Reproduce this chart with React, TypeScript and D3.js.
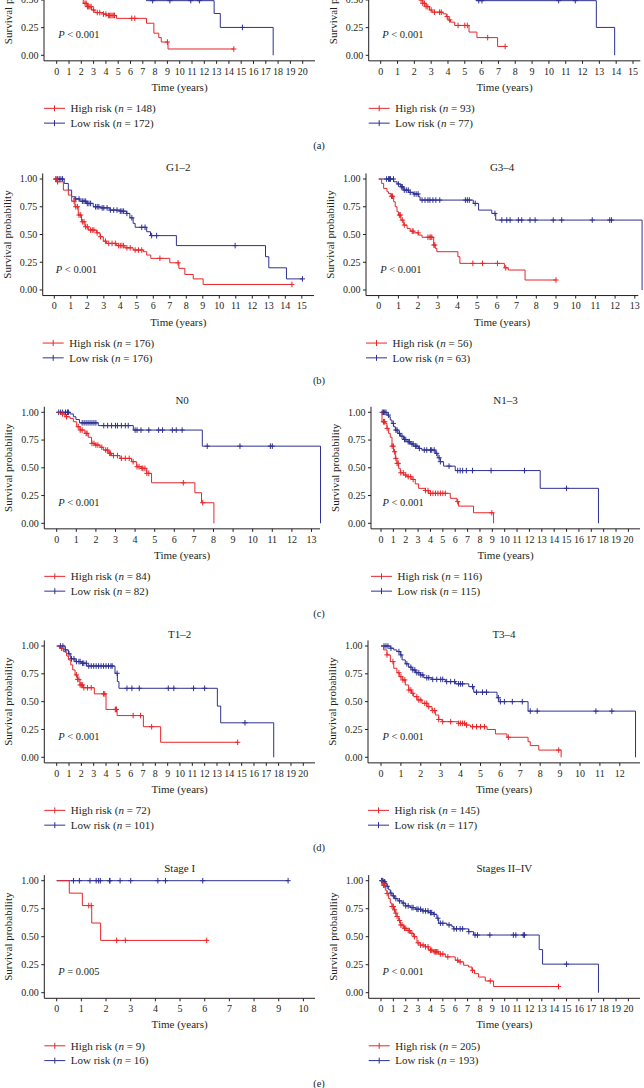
import React from "react";
import * as d3 from "d3";

type Step = [number, number];

const RED = "#e8262a";
const BLUE = "#2e3192";
const INK = "#231f20";
const FONT = "'Liberation Serif', 'Times New Roman', Times, serif";

// ---------- panel meta ----------
const panelTitles = ["", "", "G1–2", "G3–4", "N0", "N1–3", "T1–2", "T3–4", "Stage I", "Stages II–IV"];
const highN = [148, 93, 176, 56, 84, 116, 72, 145, 9, 205];
const lowN = [172, 77, 176, 63, 82, 115, 101, 117, 16, 193];
const pOps = ["<", "<", "<", "<", "<", "<", "<", "<", "=", "<"];
const pVals = ["0.001", "0.001", "0.001", "0.001", "0.001", "0.001", "0.001", "0.001", "0.005", "0.001"];
const tickMax = [20, 15, 15, 13, 13, 20, 20, 12, 10, 20];
const rowLabels = ["(a)", "(b)", "(c)", "(d)", "(e)"];
const yTicks = [0, 0.25, 0.5, 0.75, 1];

// ---------- survival data (time, survival) ----------
const a1HighSteps: Step[] = [[0, 1], [0.3, 0.96], [0.6, 0.9], [0.9, 0.84], [1.2, 0.76], [1.5, 0.68], [1.8, 0.58], [2.0, 0.52], [2.16, 0.47], [2.49, 0.44], [2.84, 0.41], [3.1, 0.386], [3.78, 0.373], [4.05, 0.36], [4.86, 0.334], [7.3, 0.29], [7.9, 0.2], [8.3, 0.16], [8.5, 0.12], [9.05, 0.057]];
const a1HighEnd = 14.4;
const a1HighCensor = [2.3, 2.4, 2.5, 2.6, 2.7, 2.8, 3.0, 3.3, 3.5, 3.8, 4.0, 4.2, 4.3, 4.4, 4.5, 4.6, 4.7, 6.1, 6.35, 9.0, 14.4];
const a1LowSteps: Step[] = [[0, 1], [0.5, 0.97], [1, 0.93], [1.5, 0.88], [2, 0.83], [3, 0.78], [4, 0.73], [5, 0.66], [6, 0.6], [7, 0.55], [7.3, 0.494], [12.8, 0.378], [13.3, 0.252], [17.6, 0]];
const a1LowEnd = 17.6;
const a1LowCensor = [0.2, 0.5, 1.2, 2.5, 3.5, 4.5, 5.5, 7.8, 9.2, 10.9, 11.6, 15.1];

const a2HighSteps: Step[] = [[0, 1], [0.3, 0.95], [0.7, 0.88], [1.0, 0.8], [1.4, 0.72], [1.8, 0.62], [2.1, 0.55], [2.3, 0.5], [2.5, 0.47], [2.7, 0.44], [2.9, 0.41], [3.05, 0.39], [3.7, 0.375], [3.9, 0.35], [4.0, 0.32], [4.15, 0.3], [4.4, 0.27], [5.25, 0.21], [5.72, 0.16], [6.95, 0.08]];
const a2HighEnd = 7.4;
const a2HighCensor = [2.4, 2.5, 2.6, 2.7, 2.8, 3.0, 3.2, 3.5, 3.6, 3.95, 4.1, 4.6, 5.0, 5.15, 6.36, 7.4];
const a2LowSteps: Step[] = [[0, 1], [0.5, 0.97], [1, 0.94], [2, 0.88], [3, 0.8], [4, 0.7], [5, 0.6], [5.67, 0.494], [12.82, 0.252], [13.91, 0]];
const a2LowEnd = 13.91;
const a2LowCensor = [0.3, 1.5, 2.5, 4.5, 5.83, 6.02, 10.58, 11.57];

const b1HighSteps: Step[] = [[0, 1], [0.14, 0.975], [0.55, 0.9], [0.85, 0.855], [1.05, 0.8], [1.25, 0.75], [1.45, 0.675], [1.65, 0.615], [1.86, 0.57], [2.06, 0.54], [2.56, 0.515], [2.77, 0.48], [2.97, 0.44], [3.17, 0.42], [3.78, 0.4], [4.28, 0.38], [4.78, 0.36], [5.4, 0.345], [5.6, 0.315], [5.85, 0.285], [7.0, 0.245], [7.55, 0.195], [7.91, 0.14], [8.42, 0.1], [9.02, 0.05]];
const b1HighEnd = 14.4;
const b1HighCensor = [0.1, 0.2, 1.2, 1.3, 1.4, 1.5, 1.6, 1.7, 1.8, 1.9, 2.0, 2.2, 2.3, 2.4, 2.6, 2.8, 3.1, 3.3, 3.5, 3.7, 3.9, 4.0, 4.1, 4.2, 4.4, 4.6, 4.9, 5.1, 5.3, 6.4, 7.5, 14.4];
const b1LowSteps: Step[] = [[0, 1], [0.6, 0.96], [0.85, 0.9], [1.05, 0.84], [1.25, 0.82], [1.55, 0.8], [1.96, 0.78], [2.36, 0.75], [2.77, 0.74], [3.37, 0.72], [3.98, 0.71], [4.38, 0.69], [4.58, 0.65], [4.78, 0.6], [4.9, 0.565], [5.6, 0.525], [5.83, 0.49], [7.4, 0.4], [12.8, 0.3], [13.0, 0.2], [14.07, 0.1]];
const b1LowEnd = 15.04;
const b1LowCensor = [0.1, 0.2, 0.3, 0.4, 0.5, 1.3, 1.5, 1.7, 1.8, 1.9, 2.0, 2.1, 2.2, 2.5, 2.6, 2.7, 2.9, 3.0, 3.2, 3.4, 3.6, 3.8, 4.0, 4.1, 4.2, 4.4, 4.7, 5.3, 5.5, 5.9, 6.2, 10.96, 15.04];

const b2HighSteps: Step[] = [[0, 1], [0.15, 0.96], [0.25, 0.915], [0.42, 0.885], [0.5, 0.87], [0.62, 0.845], [0.76, 0.795], [0.84, 0.75], [0.93, 0.705], [1.01, 0.675], [1.13, 0.63], [1.27, 0.585], [1.44, 0.555], [1.6, 0.53], [1.77, 0.515], [2.03, 0.495], [2.2, 0.475], [2.79, 0.405], [2.87, 0.375], [2.95, 0.345], [4.02, 0.3], [4.12, 0.24], [6.38, 0.2], [6.58, 0.18], [7.43, 0.09]];
const b2HighEnd = 9.0;
const b2HighCensor = [0.65, 0.7, 1.05, 1.1, 1.2, 1.3, 1.7, 1.75, 2.0, 2.5, 2.6, 2.65, 2.7, 2.8, 2.85, 4.78, 5.27, 6.03, 6.45, 9.0];
const b2LowSteps: Step[] = [[0, 1], [0.76, 0.975], [0.93, 0.955], [1.1, 0.93], [1.27, 0.9], [1.52, 0.88], [1.77, 0.865], [2.03, 0.84], [2.1, 0.81], [4.8, 0.78], [5.07, 0.72], [5.74, 0.69], [5.94, 0.63], [13.37, 0]];
const b2LowEnd = 13.37;
const b2LowCensor = [0.4, 0.5, 0.55, 0.6, 0.75, 1.0, 1.15, 1.2, 1.3, 1.4, 1.5, 1.6, 1.8, 1.9, 2.0, 2.2, 2.35, 2.5, 2.6, 2.75, 2.9, 3.1, 4.4, 4.5, 4.6, 4.9, 5.9, 6.25, 6.5, 6.67, 7.09, 7.26, 7.68, 7.94, 8.86, 9.29, 10.84, 11.73, 11.82];

const c1HighSteps: Step[] = [[0, 1], [0.17, 0.985], [0.42, 0.96], [0.68, 0.945], [0.85, 0.915], [1.02, 0.87], [1.19, 0.84], [1.44, 0.81], [1.61, 0.775], [1.78, 0.72], [1.95, 0.705], [2.21, 0.685], [2.38, 0.66], [2.63, 0.63], [2.8, 0.61], [3.23, 0.585], [3.82, 0.555], [4.08, 0.51], [4.33, 0.495], [4.59, 0.45], [4.84, 0.365], [7.05, 0.275], [7.39, 0.185], [8.02, 0]];
const c1HighEnd = 8.02;
const c1HighCensor = [0.3, 0.5, 1.1, 1.2, 1.3, 1.5, 1.55, 1.8, 1.9, 2.0, 2.1, 2.3, 2.5, 2.6, 2.7, 2.75, 2.9, 3.1, 3.3, 3.5, 3.7, 3.9, 4.1, 4.2, 4.35, 4.4, 4.5, 4.6, 4.7, 6.46, 7.45];
const c1LowSteps: Step[] = [[0, 1], [0.68, 0.985], [0.85, 0.96], [0.98, 0.935], [1.16, 0.905], [2.12, 0.88], [3.91, 0.84], [7.43, 0.695], [13.46, 0]];
const c1LowEnd = 13.46;
const c1LowCensor = [0.1, 0.2, 0.3, 0.45, 0.55, 0.6, 1.3, 1.4, 1.5, 1.6, 1.7, 1.8, 1.9, 2.0, 2.4, 2.6, 2.8, 3.0, 3.1, 3.3, 3.5, 3.65, 4.0, 4.1, 4.3, 4.7, 5.2, 5.4, 5.9, 6.1, 6.4, 7.68, 9.35, 10.9, 11.0];

const c2HighSteps: Step[] = [[0, 1], [0.08, 0.915], [0.35, 0.9], [0.48, 0.855], [0.62, 0.81], [0.75, 0.775], [0.89, 0.695], [1.02, 0.645], [1.16, 0.585], [1.29, 0.54], [1.43, 0.495], [1.56, 0.455], [1.83, 0.435], [2.1, 0.42], [2.5, 0.395], [2.77, 0.355], [3.04, 0.315], [3.58, 0.295], [3.85, 0.27], [5.6, 0.225], [6.14, 0.195], [6.27, 0.155], [7.48, 0.095], [9.1, 0]];
const c2HighEnd = 9.1;
const c2HighCensor = [0.2, 0.25, 0.3, 0.5, 0.9, 1.0, 1.1, 1.2, 1.3, 1.4, 1.6, 1.8, 2.0, 2.2, 2.4, 2.6, 3.6, 3.8, 4.0, 4.2, 4.4, 4.6, 4.8, 5.0, 5.2, 6.2, 8.96];
const c2LowSteps: Step[] = [[0, 1], [0.48, 0.975], [0.62, 0.96], [0.75, 0.93], [0.89, 0.9], [1.02, 0.87], [1.16, 0.84], [1.37, 0.81], [1.56, 0.785], [1.83, 0.755], [2.1, 0.735], [2.37, 0.715], [2.64, 0.695], [3.04, 0.675], [3.31, 0.66], [4.39, 0.63], [4.6, 0.59], [4.79, 0.555], [5.06, 0.515], [6.0, 0.475], [12.87, 0.315], [17.58, 0]];
const c2LowEnd = 17.58;
const c2LowCensor = [0.1, 0.2, 0.3, 0.4, 0.6, 1.0, 1.2, 1.3, 1.5, 1.7, 1.9, 2.0, 2.2, 2.3, 2.5, 2.6, 2.8, 2.9, 3.1, 3.5, 3.7, 4.0, 4.1, 4.3, 4.5, 4.7, 4.8, 5.5, 6.2, 6.4, 6.6, 6.9, 7.4, 8.9, 11.6, 15.0];

const d1HighSteps: Step[] = [[0, 1], [0.22, 0.98], [0.54, 0.95], [0.81, 0.91], [0.95, 0.875], [1.14, 0.83], [1.3, 0.785], [1.49, 0.74], [1.68, 0.7], [1.89, 0.65], [2.16, 0.625], [3.05, 0.57], [4.0, 0.43], [4.9, 0.375], [7.03, 0.275], [8.43, 0.135]];
const d1HighEnd = 14.68;
const d1HighCensor = [0.4, 1.6, 1.7, 1.8, 1.9, 2.0, 2.1, 2.2, 2.5, 2.8, 3.8, 3.9, 4.75, 4.8, 4.85, 6.2, 6.8, 7.7, 14.68];
const d1LowSteps: Step[] = [[0, 1], [0.68, 0.965], [0.95, 0.93], [1.14, 0.885], [1.49, 0.86], [2.03, 0.845], [2.43, 0.82], [4.73, 0.755], [4.92, 0.68], [5.05, 0.62], [13.03, 0.46], [13.3, 0.31], [17.6, 0]];
const d1LowEnd = 17.6;
const d1LowCensor = [0.3, 0.5, 0.7, 1.0, 1.2, 1.4, 1.6, 1.8, 1.9, 2.1, 2.2, 2.4, 2.6, 2.8, 3.0, 3.2, 3.4, 3.6, 3.8, 4.0, 4.2, 4.4, 4.5, 4.9, 5.7, 6.1, 6.7, 9.05, 9.5, 11.1, 12.0, 15.27];

const d2HighSteps: Step[] = [[0, 1], [0.13, 0.965], [0.3, 0.92], [0.47, 0.86], [0.64, 0.8], [0.8, 0.76], [0.92, 0.725], [1.06, 0.695], [1.22, 0.65], [1.39, 0.605], [1.53, 0.575], [1.64, 0.545], [1.81, 0.515], [2.06, 0.485], [2.31, 0.455], [2.56, 0.42], [2.73, 0.38], [2.9, 0.34], [3.07, 0.32], [3.9, 0.305], [4.24, 0.29], [4.49, 0.275], [5.33, 0.25], [5.75, 0.21], [6.33, 0.18], [7.39, 0.14], [7.5, 0.105], [7.93, 0.065], [9.05, 0]];
const d2HighEnd = 9.05;
const d2HighCensor = [0.3, 0.6, 0.9, 1.0, 1.1, 1.2, 1.4, 1.5, 1.6, 1.8, 1.9, 2.0, 2.2, 2.3, 2.4, 2.6, 2.7, 2.9, 3.1, 3.5, 3.9, 4.0, 4.1, 4.2, 4.3, 4.6, 4.8, 5.0, 5.2, 6.4, 8.93];
const d2LowSteps: Step[] = [[0, 1], [0.47, 0.98], [0.64, 0.965], [0.8, 0.95], [0.97, 0.92], [1.06, 0.875], [1.22, 0.84], [1.39, 0.81], [1.56, 0.785], [1.73, 0.76], [1.98, 0.74], [2.15, 0.715], [2.56, 0.7], [3.23, 0.68], [3.74, 0.66], [4.41, 0.635], [4.66, 0.585], [5.83, 0.535], [5.92, 0.5], [7.39, 0.415], [12.79, 0]];
const d2LowEnd = 12.79;
const d2LowCensor = [0.15, 0.25, 0.35, 0.5, 0.9, 1.0, 1.3, 1.5, 1.6, 1.7, 1.8, 1.9, 2.0, 2.1, 2.3, 2.4, 2.6, 2.8, 3.0, 3.1, 3.3, 3.5, 3.7, 3.9, 4.0, 4.1, 4.6, 4.8, 5.1, 5.3, 5.9, 6.0, 6.2, 6.6, 7.1, 7.5, 7.85, 10.8, 11.6];

const e1HighSteps: Step[] = [[0, 1], [0.51, 0.889], [1.04, 0.778], [1.42, 0.622], [1.78, 0.467]];
const e1HighEnd = 6.08;
const e1HighCensor = [1.3, 1.4, 2.43, 2.78, 6.08];
const e1LowSteps: Step[] = [[0, 1]];
const e1LowEnd = 9.38;
const e1LowCensor = [0.68, 0.92, 1.35, 1.6, 1.7, 1.77, 2.14, 2.16, 2.57, 3.0, 4.1, 4.41, 5.92, 9.38];

const e2HighSteps: Step[] = [[0, 1], [0.08, 0.96], [0.35, 0.915], [0.48, 0.885], [0.62, 0.84], [0.75, 0.8], [0.89, 0.77], [1.02, 0.74], [1.16, 0.71], [1.29, 0.68], [1.43, 0.645], [1.56, 0.605], [1.83, 0.575], [2.1, 0.555], [2.37, 0.53], [2.64, 0.5], [2.91, 0.445], [3.18, 0.425], [3.58, 0.41], [3.85, 0.38], [4.25, 0.365], [4.66, 0.345], [5.2, 0.32], [6.0, 0.29], [6.27, 0.275], [6.68, 0.245], [7.08, 0.23], [7.35, 0.2], [7.56, 0.17], [7.89, 0.14], [8.43, 0.105], [9.1, 0.055]];
const e2HighEnd = 14.35;
const e2HighCensor = [0.2, 0.3, 0.5, 0.9, 1.0, 1.1, 1.2, 1.3, 1.5, 1.6, 1.7, 1.9, 2.0, 2.2, 2.3, 2.5, 2.7, 3.0, 3.2, 3.4, 3.6, 3.8, 4.0, 4.1, 4.3, 4.4, 4.5, 4.6, 4.8, 5.0, 5.4, 6.2, 6.4, 7.4, 8.83, 14.35];
const e2LowSteps: Step[] = [[0, 1], [0.2, 0.99], [0.35, 0.975], [0.48, 0.95], [0.62, 0.92], [0.75, 0.89], [0.89, 0.865], [1.1, 0.84], [1.37, 0.82], [1.7, 0.8], [1.96, 0.775], [2.37, 0.76], [2.77, 0.745], [3.31, 0.73], [3.85, 0.715], [4.25, 0.7], [4.52, 0.665], [4.66, 0.62], [5.33, 0.605], [5.73, 0.59], [5.87, 0.57], [7.08, 0.545], [7.48, 0.515], [12.79, 0.385], [13.06, 0.255], [17.58, 0]];
const e2LowEnd = 17.58;
const e2LowCensor = [0.05, 0.1, 0.15, 0.25, 0.3, 0.5, 0.8, 1.0, 1.2, 1.5, 1.8, 2.0, 2.2, 2.5, 2.6, 2.9, 3.0, 3.2, 3.4, 3.6, 3.8, 4.0, 4.1, 4.3, 4.6, 4.8, 5.0, 5.5, 5.9, 6.1, 6.4, 6.6, 7.1, 7.6, 7.8, 8.8, 10.7, 10.9, 11.5, 11.6, 15.0];

const highSteps = [a1HighSteps, a2HighSteps, b1HighSteps, b2HighSteps, c1HighSteps, c2HighSteps, d1HighSteps, d2HighSteps, e1HighSteps, e2HighSteps];
const highEnds = [a1HighEnd, a2HighEnd, b1HighEnd, b2HighEnd, c1HighEnd, c2HighEnd, d1HighEnd, d2HighEnd, e1HighEnd, e2HighEnd];
const highCensors = [a1HighCensor, a2HighCensor, b1HighCensor, b2HighCensor, c1HighCensor, c2HighCensor, d1HighCensor, d2HighCensor, e1HighCensor, e2HighCensor];
const lowSteps = [a1LowSteps, a2LowSteps, b1LowSteps, b2LowSteps, c1LowSteps, c2LowSteps, d1LowSteps, d2LowSteps, e1LowSteps, e2LowSteps];
const lowEnds = [a1LowEnd, a2LowEnd, b1LowEnd, b2LowEnd, c1LowEnd, c2LowEnd, d1LowEnd, d2LowEnd, e1LowEnd, e2LowEnd];
const lowCensors = [a1LowCensor, a2LowCensor, b1LowCensor, b2LowCensor, c1LowCensor, c2LowCensor, d1LowCensor, d2LowCensor, e1LowCensor, e2LowCensor];

// ---------- layout (pixels) ----------
const panelX = [
  { left: 44, zero: 56.7, unit: 12.3, right: 315 },
  { left: 368.7, zero: 380.7, unit: 16.82, right: 640.3 },
  { left: 42.7, zero: 54.3, unit: 16.5, right: 314 },
  { left: 366, zero: 378.7, unit: 19.7, right: 638.3 },
  { left: 44.3, zero: 56.7, unit: 19.6, right: 320 },
  { left: 371, zero: 381, unit: 12.37, right: 640 },
  { left: 44.3, zero: 56.7, unit: 12.33, right: 315 },
  { left: 368, zero: 381, unit: 19.9, right: 640 },
  { left: 44.3, zero: 56.7, unit: 24.67, right: 315 },
  { left: 368.7, zero: 381, unit: 12.37, right: 640 },
];
const rowY = [
  { top: -55.3, bottom: 55.3 },
  { top: 179, bottom: 290 },
  { top: 412.3, bottom: 523.3 },
  { top: 646, bottom: 757.3 },
  { top: 880.7, bottom: 992.7 },
];

function survAt(steps: Step[], t: number) {
  let s = 1;
  for (const [st, sv] of steps) {
    if (st <= t + 1e-9) s = sv;
    else break;
  }
  return s;
}

function Curve({ steps, end, censor, x, y, color }: any) {
  const pts: Step[] = [...steps, [end, steps[steps.length - 1][1]]];
  const line = d3
    .line<Step>()
    .x((d) => x(d[0]))
    .y((d) => y(d[1]))
    .curve(d3.curveStepAfter);
  return (
    <g>
      <path d={line(pts) || ""} fill="none" stroke={color} strokeWidth={1} />
      {censor.map((t: number, i: number) => {
        const cx = x(t);
        const cy = y(survAt(steps, t));
        return (
          <path
            key={i}
            d={`M${cx - 2.6},${cy}H${cx + 2.6}M${cx},${cy - 2.8}V${cy + 2.8}`}
            stroke={color}
            strokeWidth={1}
            fill="none"
          />
        );
      })}
    </g>
  );
}

function Panel({ i }: { i: number }) {
  const L = panelX[i];
  const R = rowY[Math.floor(i / 2)];
  const x = d3
    .scaleLinear()
    .domain([(L.left - L.zero) / L.unit, (L.right - L.zero) / L.unit])
    .range([L.left, L.right]);
  const y = d3.scaleLinear().domain([0, 1]).range([R.bottom, R.top]);
  const axisY = y(-0.05);
  const axisTop = y(1.05);
  const xt = d3.range(0, tickMax[i] + 1);
  const cx = (L.left + L.right) / 2;
  const cy = (axisY + axisTop) / 2;
  const tx = L.left - 36;
  return (
    <g fontFamily={FONT} fill={INK}>
      {panelTitles[i] && (
        <text x={cx} y={axisTop - 2.8} textAnchor="middle" fontSize={11}>
          {panelTitles[i]}
        </text>
      )}
      <Curve steps={lowSteps[i]} end={lowEnds[i]} censor={lowCensors[i]} x={x} y={y} color={BLUE} />
      <Curve steps={highSteps[i]} end={highEnds[i]} censor={highCensors[i]} x={x} y={y} color={RED} />
      <line x1={L.left} x2={L.left} y1={axisTop} y2={axisY} stroke={INK} strokeWidth={1} />
      <line x1={L.left} x2={L.right} y1={axisY} y2={axisY} stroke={INK} strokeWidth={1} />
      {yTicks.map((v) => (
        <g key={v}>
          <line x1={L.left - 3} x2={L.left} y1={y(v)} y2={y(v)} stroke={INK} strokeWidth={1} />
          {y(v) > -4 && (
            <text x={L.left - 5.5} y={y(v) + 3.4} textAnchor="end" fontSize={10}>
              {v.toFixed(2)}
            </text>
          )}
        </g>
      ))}
      {xt.map((v) => (
        <g key={v}>
          <line x1={x(v)} x2={x(v)} y1={axisY} y2={axisY + 3} stroke={INK} strokeWidth={1} />
          <text x={x(v)} y={axisY + 13.8} textAnchor="middle" fontSize={10}>
            {v}
          </text>
        </g>
      ))}
      <text x={cx} y={axisY + 30} textAnchor="middle" fontSize={11}>
        Time (years)
      </text>
      <text
        transform={`translate(${tx},${cy}) rotate(-90)`}
        textAnchor="middle"
        dominantBaseline="central"
        fontSize={11}
      >
        Survival probability
      </text>
      <text x={L.zero + 1.5} y={y(0.25) + 10.3} fontSize={10.5}>
        <tspan fontStyle="italic">P</tspan> {pOps[i]} {pVals[i]}
      </text>
      {[0, 1].map((k) => {
        const ly = axisY + 47.5 + k * 14.8;
        const col = k === 0 ? RED : BLUE;
        const mid = L.left + 10.5;
        return (
          <g key={k}>
            <line x1={L.left} x2={L.left + 21} y1={ly} y2={ly} stroke={col} strokeWidth={1} />
            <path d={`M${mid},${ly - 3}V${ly + 3}`} stroke={col} strokeWidth={1} />
            <text x={L.left + 26.5} y={ly + 3.8} fontSize={11}>
              {k === 0 ? "High risk (" : "Low risk ("}
              <tspan fontStyle="italic">n</tspan>
              {" = " + (k === 0 ? highN[i] : lowN[i]) + ")"}
            </text>
          </g>
        );
      })}
    </g>
  );
}

export default function App() {
  return (
    <div style={{ position: "absolute", left: 0, top: 0 }}>
      <svg width={644} height={1088} style={{ display: "block", background: "#fff" }}>
        <rect width={644} height={1088} fill="#fff" />
        {d3.range(10).map((i) => (
          <Panel key={i} i={i} />
        ))}
        {rowLabels.map((lab, r) => {
          const y = d3.scaleLinear().domain([0, 1]).range([rowY[r].bottom, rowY[r].top]);
          return (
            <text key={lab} x={319} y={y(-0.05) + 88.5} textAnchor="middle" fontSize={10.5} fontFamily={FONT} fill={INK}>
              {lab}
            </text>
          );
        })}
      </svg>
    </div>
  );
}
